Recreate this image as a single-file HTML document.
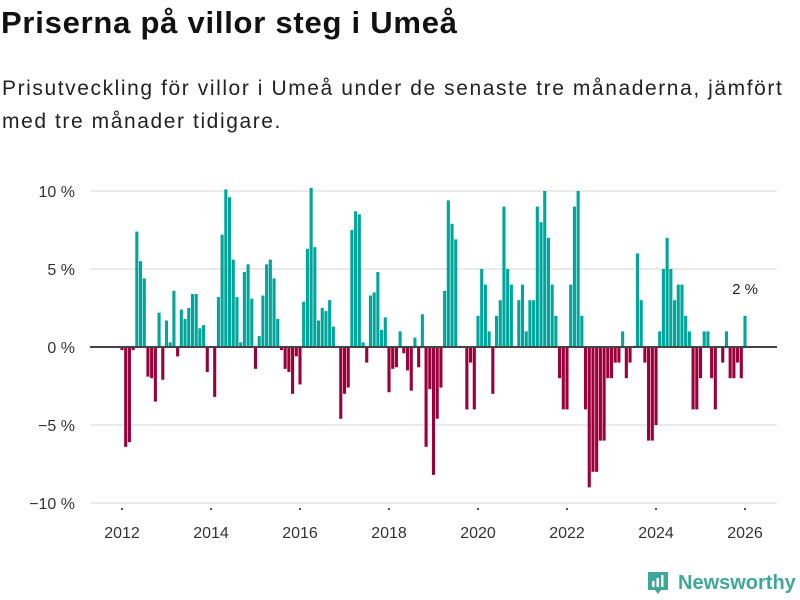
<!DOCTYPE html>
<html><head><meta charset="utf-8"><style>
body{margin:0;width:800px;height:600px;background:#fff;font-family:"Liberation Sans","DejaVu Sans",sans-serif;color:#111;overflow:hidden;position:relative}
h1{position:absolute;left:1px;top:5px;margin:0;font-size:31px;font-weight:bold;letter-spacing:0.75px;white-space:nowrap}
.sub{position:absolute;left:2px;margin:0;font-size:21px;color:#222;white-space:nowrap;letter-spacing:1.58px}
svg{position:absolute;left:0;top:0}
</style></head><body>
<h1>Priserna på villor steg i Umeå</h1>
<div class="sub" style="top:77px">Prisutveckling för villor i Umeå under de senaste tre månaderna, jämfört</div>
<div class="sub" style="top:110px">med tre månader tidigare.</div>
<svg id="chart" width="800" height="600"></svg>
<script>
const startYear = 2012;
const values = [-0.2,-6.4,-6.1,-0.2,7.4,5.5,4.4,-1.9,-2.0,-3.5,2.2,-2.1,
1.7,0.3,3.6,-0.6,2.4,1.8,2.5,3.4,3.4,1.2,1.4,-1.6,
0,-3.2,3.2,7.2,10.1,9.6,5.6,3.2,0.3,4.8,5.3,3.1,
-1.4,0.7,3.3,5.3,5.6,4.4,1.8,-0.2,-1.4,-1.6,-3.0,-0.6,
-2.4,2.9,6.3,10.2,6.4,1.7,2.5,2.3,3.0,1.3,0,-4.6,
-3.0,-2.6,7.5,8.7,8.5,0.3,-1.0,3.3,3.5,4.8,1.1,1.9,
-2.9,-1.4,-1.3,1.0,-0.4,-1.5,-2.8,0.6,-1.3,2.1,-6.4,-2.7,
-8.2,-4.6,-2.6,3.6,9.4,7.9,6.9,0,0,-4,-1,-4,
2,5,4,1,-3,2,3,9,5,4,0,3,
4,1,3,3,9,8,10,7,4,2,-2,-4,
-4,4,9,10,2,-4,-9,-8,-8,-6,-6,-2,
-2,-1,-1,1,-2,-1,0,6,3,-1,-6,-6,
-5,1,5,7,5,3,4,4,2,1,-4,-4,
-2,1,1,-2,-4,0,-1,1,-2,-2,-1,-2,2];
const yTicks = [10,5,0,-5,-10];
const yTickLabels = ["10 %","5 %","0 %","−5 %","−10 %"];
const xTickYears = [2012,2014,2016,2018,2020,2022,2024,2026];
const svg = document.getElementById('chart');
const NS='http://www.w3.org/2000/svg';
const x0=122, perMonth=44.5/12;
const xScale = m => x0 + m*perMonth;
const yScale = v => 347 - v*15.6;
function mk(tag, attrs){const e=document.createElementNS(NS,tag);for(const k in attrs)e.setAttribute(k,attrs[k]);svg.appendChild(e);return e;}
yTicks.forEach((t,i)=>{
  const g=mk('line',{x1:90,x2:777,y1:yScale(t),y2:yScale(t),stroke:'#e3e3e3','stroke-width':1.5});
  
  
  const tx=mk('text',{x:75,y:yScale(t)+6,'text-anchor':'end','font-size':16,fill:'#333'});
  tx.textContent=yTickLabels[i];
  
  
});
xTickYears.forEach(yr=>{
  const x=xScale((yr-startYear)*12);
  const tk=mk('rect',{x:x-1,y:508,width:2,height:2,fill:'#555'});
  
  
  const tx=mk('text',{x:x,y:538,'text-anchor':'middle','font-size':16,fill:'#333'});
  tx.textContent=String(yr);
  
  
});
values.forEach((v,i)=>{
  if(v===0) return;
  const x=xScale(i);
  const y=v>0?yScale(v):yScale(0);
  const b=mk('rect',{x:x-1.55,y:y,width:3.1,height:Math.abs(yScale(v)-yScale(0)),fill:v>0?'#00a59b':'#9b003a'});
  
  
});
const zl=mk('line',{x1:90,x2:777,y1:yScale(0),y2:yScale(0),stroke:'#444','stroke-width':2});


const lastI=values.length-1;
const lbl=mk('text',{x:xScale(lastI),y:yScale(values[lastI])-22,'text-anchor':'middle','font-size':15,fill:'#222'});
lbl.textContent=values[lastI]+' %';


</script>
<div style="position:absolute;left:646px;top:570px;display:flex;align-items:center">
<svg width="24" height="26" style="position:static"><path d="M2 2h20v18h-7l-3 4-3-4H2z" fill="#3fa79a"/><rect x="6" y="11" width="2.5" height="6" fill="#fff"/><rect x="10.5" y="8" width="2.5" height="9" fill="#fff"/><rect x="15" y="5" width="2.5" height="12" fill="#fff"/></svg>
<span style="color:#3fa79a;font-weight:bold;font-size:20px;margin-left:8px">Newsworthy</span>
</div>
</body></html>
